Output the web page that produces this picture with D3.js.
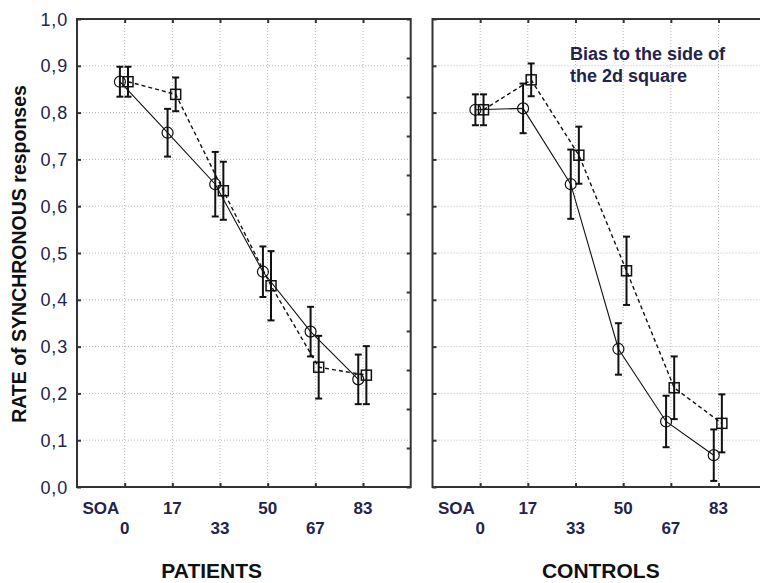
<!DOCTYPE html>
<html>
<head>
<meta charset="utf-8">
<script src="https://cdn.jsdelivr.net/npm/d3@7"></script>
<style>
  body { margin: 0; background: #fff; }
  text { font-family: "Liberation Sans", Arial, sans-serif; }
</style>
</head>
<body>
<div id="chart"></div>
<script>
// SOA levels (ms) and the two conditions per group
const soa = [0, 17, 33, 50, 67, 83]
const yTicks = [0, 0.1, 0.2, 0.3, 0.4, 0.5, 0.6, 0.7, 0.8, 0.9, 1.0]

const patientsCircle    = [0.866, 0.757, 0.647, 0.460, 0.332, 0.230]
const patientsCircleErr = [0.032, 0.051, 0.069, 0.054, 0.053, 0.053]
const patientsSquare    = [0.866, 0.839, 0.633, 0.430, 0.256, 0.239]
const patientsSquareErr = [0.032, 0.036, 0.062, 0.074, 0.067, 0.062]

const controlsCircle    = [0.806, 0.809, 0.647, 0.295, 0.140, 0.068]
const controlsCircleErr = [0.033, 0.053, 0.074, 0.055, 0.055, 0.055]
const controlsSquare    = [0.806, 0.870, 0.709, 0.462, 0.212, 0.136]
const controlsSquareErr = [0.033, 0.035, 0.061, 0.073, 0.067, 0.062]

const width = 760
const height = 583
const plotTop = 19
const plotBottom = 487
const panelW = 333.7
const ink = "#23234d"
const frame = "#333"

const locale = d3.formatLocale({ decimal: ",", thousands: ".", grouping: [3], currency: ["", ""] })
const fmt = locale.format(".1f")

const svg = d3.select("#chart")
  .append("svg")
    .attr("width", width)
    .attr("height", height)

svg.append("rect")
    .attr("width", width)
    .attr("height", height)
    .attr("fill", "#fff")

const yScale = d3.scaleLinear().domain([0, 1]).range([plotBottom, plotTop])

const drawPanel = function(x0, circ, circErr, sq, sqErr, title, titleX, showY) {
  const xScale = d3.scaleLinear().domain([-1, 6]).range([x0, x0 + panelW])
  const g = svg.append("g")

  // Grid
  g.selectAll(".vgrid")
    .data(soa)
    .enter().append("line")
      .attr("x1", (d, i) => xScale(i))
      .attr("x2", (d, i) => xScale(i))
      .attr("y1", plotTop)
      .attr("y2", plotBottom)
      .attr("stroke", "#b8b8b8")
      .attr("stroke-dasharray", "1,2")
  g.selectAll(".hgrid")
    .data(yTicks.slice(1, -1))
    .enter().append("line")
      .attr("x1", x0)
      .attr("x2", x0 + panelW)
      .attr("y1", d => yScale(d))
      .attr("y2", d => yScale(d))
      .attr("stroke", "#b8b8b8")
      .attr("stroke-dasharray", "1,2")

  // Inward ticks on the frame
  const idx = soa.map((d, i) => i)
  g.append("g")
      .attr("transform", "translate(0," + plotBottom + ")")
      .call(d3.axisTop(xScale).tickValues(idx).tickSize(4).tickFormat(""))
  g.append("g")
      .attr("transform", "translate(0," + plotTop + ")")
      .call(d3.axisBottom(xScale).tickValues(idx).tickSize(4).tickFormat(""))
  g.append("g")
      .attr("transform", "translate(" + x0 + ",0)")
      .call(d3.axisRight(yScale).tickValues(yTicks).tickSize(4).tickFormat(""))
  const rScale = d3.scaleLinear().domain([0, 12]).range([plotBottom, plotTop])
  g.append("g")
      .attr("transform", "translate(" + (x0 + panelW) + ",0)")
      .call(d3.axisLeft(rScale).ticks(12).tickSize(4).tickFormat(""))
  g.selectAll(".domain").remove()
  g.selectAll(".tick line").attr("stroke", frame).attr("stroke-width", 2)

  // Frame
  g.append("rect")
      .attr("x", x0)
      .attr("y", plotTop)
      .attr("width", panelW)
      .attr("height", plotBottom - plotTop)
      .attr("fill", "none")
      .attr("stroke", frame)
      .attr("stroke-width", 2)

  // Lines
  const cx = i => xScale(i - 0.1)
  const sx = i => xScale(i + 0.07)
  g.append("path")
      .datum(circ)
      .attr("d", d3.line().x((d, i) => cx(i)).y(d => yScale(d)))
      .attr("fill", "none")
      .attr("stroke", "#111")
      .attr("stroke-width", 1.1)
  g.append("path")
      .datum(sq)
      .attr("d", d3.line().x((d, i) => sx(i)).y(d => yScale(d)))
      .attr("fill", "none")
      .attr("stroke", "#111")
      .attr("stroke-width", 1.4)
      .attr("stroke-dasharray", "4,3")

  // Error bars
  const errBars = function(vals, errs, xf) {
    vals.forEach((v, i) => {
      const x = xf(i)
      const y1 = yScale(v + errs[i])
      const y2 = yScale(v - errs[i])
      g.append("line").attr("x1", x).attr("x2", x).attr("y1", y1).attr("y2", y2)
        .attr("stroke", "#111").attr("stroke-width", 2)
      g.append("line").attr("x1", x - 3.5).attr("x2", x + 3.5).attr("y1", y1).attr("y2", y1)
        .attr("stroke", "#111").attr("stroke-width", 2)
      g.append("line").attr("x1", x - 3.5).attr("x2", x + 3.5).attr("y1", y2).attr("y2", y2)
        .attr("stroke", "#111").attr("stroke-width", 2)
    })
  }
  errBars(circ, circErr, cx)
  errBars(sq, sqErr, sx)

  // Markers
  g.selectAll(".circ")
    .data(circ)
    .enter().append("circle")
      .attr("cx", (d, i) => cx(i))
      .attr("cy", d => yScale(d))
      .attr("r", 5.5)
      .attr("fill", "none")
      .attr("stroke", "#111")
      .attr("stroke-width", 1.2)
  g.selectAll(".sq")
    .data(sq)
    .enter().append("rect")
      .attr("x", (d, i) => sx(i) - 5)
      .attr("y", d => yScale(d) - 5)
      .attr("width", 10)
      .attr("height", 10)
      .attr("fill", "none")
      .attr("stroke", "#111")
      .attr("stroke-width", 1.5)

  // X labels, alternating rows
  g.append("text")
      .text("SOA")
      .attr("x", xScale(-0.5))
      .attr("y", 514)
      .attr("text-anchor", "middle")
      .attr("font-size", 17)
      .attr("font-weight", "bold")
      .attr("fill", ink)
  g.selectAll(".xlab")
    .data(soa)
    .enter().append("text")
      .text(d => d)
      .attr("x", (d, i) => xScale(i))
      .attr("y", (d, i) => i % 2 === 1 ? 514 : 533.5)
      .attr("text-anchor", "middle")
      .attr("font-size", 17)
      .attr("font-weight", "bold")
      .attr("fill", ink)

  g.append("text")
      .text(title)
      .attr("x", x0 + titleX)
      .attr("y", 578)
      .attr("text-anchor", "middle")
      .attr("font-size", 21)
      .attr("font-weight", "bold")
      .attr("fill", "#111")

  if (showY) {
    g.selectAll(".ylab")
      .data(yTicks)
      .enter().append("text")
        .text(d => fmt(d))
        .attr("x", x0 - 9)
        .attr("y", d => yScale(d) + 6.5)
        .attr("text-anchor", "end")
        .attr("font-size", 18)
        .attr("letter-spacing", 0.8)
        .attr("fill", ink)
  }
  return xScale
}

drawPanel(77, patientsCircle, patientsCircleErr, patientsSquare, patientsSquareErr, "PATIENTS", 134.7, true)
drawPanel(432.5, controlsCircle, controlsCircleErr, controlsSquare, controlsSquareErr, "CONTROLS", 168.3, false)

// Y axis title
svg.append("text")
    .text("RATE of SYNCHRONOUS responses")
    .attr("text-anchor", "middle")
    .attr("font-size", 19.5)
    .attr("font-weight", "bold")
    .attr("fill", "#111")
    .attr("transform", "translate(26,254)rotate(-90)")

// Annotation in the right panel
const note = svg.append("text")
    .attr("font-size", 18)
    .attr("font-weight", "bold")
    .attr("fill", ink)
note.append("tspan").text("Bias to the side of").attr("x", 570).attr("y", 60)
note.append("tspan").text("the 2d square").attr("x", 570).attr("y", 82)
</script>
</body>
</html>
